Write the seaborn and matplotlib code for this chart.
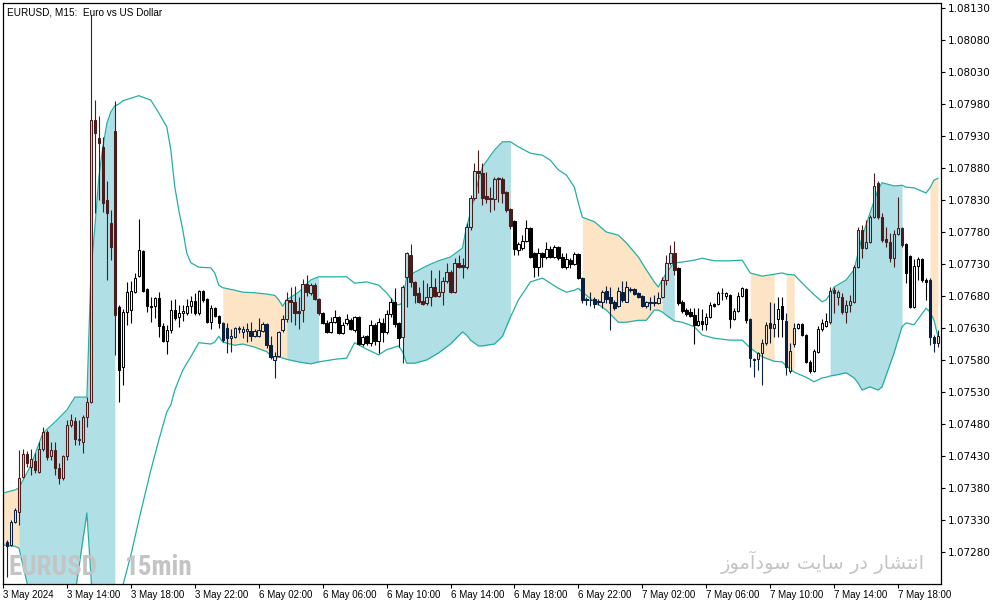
import numpy as np
import pandas as pd
import matplotlib
matplotlib.use('Agg')
import matplotlib.pyplot as plt
from matplotlib import font_manager
import seaborn as sns

# M15 candles, 3 May 10:15 -> 7 May ~20:30 (index = bar number)
opens = [
    1.07296, 1.07291, 1.07327, 1.07343, 1.07397, 1.07433, 1.07413, 1.07422, 1.07405, 1.07441,
    1.07468, 1.07430, 1.07439, 1.07411, 1.07396, 1.07430, 1.07478, 1.07485, 1.07457, 1.07452,
    1.07491, 1.07514, 1.07955, 1.07927, 1.07913, 1.07830, 1.07794, 1.07938, 1.07663, 1.07569,
    1.07655, 1.07658, 1.07686, 1.07711, 1.07750, 1.07691, 1.07664, 1.07664, 1.07677, 1.07633,
    1.07610, 1.07627, 1.07658, 1.07647, 1.07653, 1.07653, 1.07664, 1.07672, 1.07653, 1.07688,
    1.07675, 1.07639, 1.07661, 1.07649, 1.07638, 1.07630, 1.07614, 1.07616, 1.07630, 1.07624,
    1.07625, 1.07625, 1.07617, 1.07617, 1.07625, 1.07636, 1.07603, 1.07580, 1.07586, 1.07627,
    1.07644, 1.07674, 1.07671, 1.07656, 1.07658, 1.07699, 1.07685, 1.07697, 1.07675, 1.07653,
    1.07638, 1.07624, 1.07639, 1.07647, 1.07622, 1.07638, 1.07643, 1.07627, 1.07647, 1.07605,
    1.07617, 1.07606, 1.07635, 1.07610, 1.07638, 1.07624, 1.07652, 1.07671, 1.07638, 1.07616,
    1.07710, 1.07744, 1.07702, 1.07685, 1.07672, 1.07669, 1.07678, 1.07694, 1.07680, 1.07686,
    1.07703, 1.07717, 1.07686, 1.07732, 1.07728, 1.07725, 1.07788, 1.07833, 1.07875, 1.07872,
    1.07836, 1.07833, 1.07831, 1.07864, 1.07863, 1.07842, 1.07816, 1.07797, 1.07752, 1.07755,
    1.07766, 1.07786, 1.07747, 1.07725, 1.07747, 1.07741, 1.07753, 1.07741, 1.07756, 1.07741,
    1.07725, 1.07736, 1.07730, 1.07746, 1.07708, 1.07675, 1.07674, 1.07675, 1.07671, 1.07671,
    1.07688, 1.07678, 1.07671, 1.07664, 1.07686, 1.07671, 1.07691, 1.07691, 1.07685, 1.07680,
    1.07664, 1.07669, 1.07669, 1.07669, 1.07678, 1.07705, 1.07732, 1.07747, 1.07724, 1.07671,
    1.07658, 1.07655, 1.07650, 1.07635, 1.07641, 1.07636, 1.07647, 1.07668, 1.07668, 1.07685,
    1.07680, 1.07681, 1.07644, 1.07656, 1.07680, 1.07691, 1.07644, 1.07581, 1.07581, 1.07591,
    1.07607, 1.07638, 1.07630, 1.07644, 1.07664, 1.07641, 1.07563, 1.07605, 1.07630, 1.07636,
    1.07619, 1.07577, 1.07563, 1.07593, 1.07628, 1.07633, 1.07639, 1.07689, 1.07678, 1.07678,
    1.07655, 1.07666, 1.07671, 1.07725, 1.07783, 1.07755, 1.07764, 1.07803, 1.07856, 1.07803,
    1.07769, 1.07764, 1.07739, 1.07777, 1.07786, 1.07761, 1.07742, 1.07663, 1.07727, 1.07738,
    1.07705, 1.07705, 1.07616, 1.07606,
]
highs = [
    1.07299, 1.07330, 1.07349, 1.07439, 1.07441, 1.07438, 1.07441, 1.07435, 1.07452, 1.07475,
    1.07471, 1.07452, 1.07452, 1.07419, 1.07432, 1.07486, 1.07496, 1.07491, 1.07486, 1.07494,
    1.07522, 1.08119, 1.07986, 1.07961, 1.07928, 1.07860, 1.07814, 1.07985, 1.07666, 1.07660,
    1.07702, 1.07703, 1.07716, 1.07800, 1.07752, 1.07692, 1.07678, 1.07678, 1.07686, 1.07638,
    1.07635, 1.07674, 1.07675, 1.07666, 1.07666, 1.07675, 1.07680, 1.07685, 1.07689, 1.07689,
    1.07677, 1.07666, 1.07663, 1.07650, 1.07639, 1.07638, 1.07628, 1.07631, 1.07633, 1.07633,
    1.07638, 1.07639, 1.07628, 1.07646, 1.07639, 1.07638, 1.07617, 1.07593, 1.07626, 1.07650,
    1.07686, 1.07694, 1.07696, 1.07678, 1.07706, 1.07713, 1.07700, 1.07700, 1.07677, 1.07655,
    1.07643, 1.07647, 1.07658, 1.07649, 1.07639, 1.07652, 1.07646, 1.07649, 1.07649, 1.07619,
    1.07619, 1.07643, 1.07638, 1.07646, 1.07646, 1.07658, 1.07677, 1.07693, 1.07640, 1.07697,
    1.07749, 1.07761, 1.07704, 1.07694, 1.07705, 1.07700, 1.07721, 1.07708, 1.07721, 1.07710,
    1.07732, 1.07721, 1.07739, 1.07744, 1.07739, 1.07794, 1.07838, 1.07888, 1.07908, 1.07888,
    1.07874, 1.07850, 1.07866, 1.07866, 1.07866, 1.07844, 1.07818, 1.07799, 1.07764, 1.07775,
    1.07799, 1.07788, 1.07749, 1.07755, 1.07749, 1.07764, 1.07758, 1.07760, 1.07758, 1.07747,
    1.07747, 1.07739, 1.07749, 1.07747, 1.07710, 1.07678, 1.07686, 1.07678, 1.07675, 1.07689,
    1.07696, 1.07694, 1.07674, 1.07694, 1.07703, 1.07703, 1.07694, 1.07692, 1.07686, 1.07681,
    1.07672, 1.07678, 1.07681, 1.07686, 1.07710, 1.07744, 1.07760, 1.07766, 1.07726, 1.07673,
    1.07661, 1.07661, 1.07661, 1.07661, 1.07660, 1.07653, 1.07671, 1.07669, 1.07688, 1.07692,
    1.07686, 1.07683, 1.07661, 1.07686, 1.07694, 1.07693, 1.07646, 1.07583, 1.07593, 1.07613,
    1.07639, 1.07671, 1.07669, 1.07678, 1.07678, 1.07653, 1.07607, 1.07638, 1.07638, 1.07638,
    1.07621, 1.07580, 1.07597, 1.07633, 1.07644, 1.07653, 1.07694, 1.07694, 1.07689, 1.07685,
    1.07674, 1.07681, 1.07728, 1.07788, 1.07791, 1.07799, 1.07807, 1.07872, 1.07860, 1.07810,
    1.07788, 1.07778, 1.07783, 1.07835, 1.07788, 1.07763, 1.07744, 1.07738, 1.07741, 1.07739,
    1.07708, 1.07708, 1.07619, 1.07627,
]
lows = [
    1.07241, 1.07289, 1.07325, 1.07322, 1.07396, 1.07413, 1.07400, 1.07403, 1.07403, 1.07438,
    1.07424, 1.07424, 1.07400, 1.07386, 1.07393, 1.07424, 1.07475, 1.07447, 1.07447, 1.07435,
    1.07475, 1.07513, 1.07810, 1.07830, 1.07811, 1.07705, 1.07736, 1.07588, 1.07514, 1.07541,
    1.07635, 1.07638, 1.07685, 1.07710, 1.07686, 1.07655, 1.07639, 1.07646, 1.07616, 1.07608,
    1.07589, 1.07622, 1.07643, 1.07632, 1.07641, 1.07650, 1.07653, 1.07650, 1.07650, 1.07671,
    1.07638, 1.07628, 1.07647, 1.07630, 1.07608, 1.07591, 1.07593, 1.07614, 1.07622, 1.07614,
    1.07608, 1.07610, 1.07616, 1.07616, 1.07624, 1.07599, 1.07581, 1.07552, 1.07585, 1.07624,
    1.07639, 1.07639, 1.07635, 1.07628, 1.07639, 1.07680, 1.07681, 1.07674, 1.07650, 1.07636,
    1.07622, 1.07622, 1.07638, 1.07620, 1.07620, 1.07635, 1.07627, 1.07624, 1.07603, 1.07602,
    1.07604, 1.07602, 1.07603, 1.07591, 1.07608, 1.07620, 1.07647, 1.07632, 1.07600, 1.07575,
    1.07663, 1.07694, 1.07669, 1.07669, 1.07666, 1.07666, 1.07664, 1.07678, 1.07678, 1.07666,
    1.07700, 1.07685, 1.07685, 1.07724, 1.07708, 1.07722, 1.07783, 1.07830, 1.07841, 1.07822,
    1.07825, 1.07811, 1.07814, 1.07827, 1.07825, 1.07811, 1.07785, 1.07744, 1.07744, 1.07752,
    1.07764, 1.07739, 1.07710, 1.07711, 1.07725, 1.07738, 1.07739, 1.07739, 1.07736, 1.07724,
    1.07722, 1.07724, 1.07728, 1.07706, 1.07669, 1.07666, 1.07664, 1.07661, 1.07666, 1.07661,
    1.07669, 1.07627, 1.07658, 1.07663, 1.07671, 1.07670, 1.07686, 1.07682, 1.07677, 1.07663,
    1.07661, 1.07658, 1.07664, 1.07668, 1.07677, 1.07697, 1.07728, 1.07713, 1.07666, 1.07653,
    1.07649, 1.07647, 1.07605, 1.07633, 1.07627, 1.07627, 1.07646, 1.07663, 1.07666, 1.07674,
    1.07675, 1.07630, 1.07643, 1.07655, 1.07678, 1.07638, 1.07569, 1.07553, 1.07564, 1.07541,
    1.07603, 1.07606, 1.07616, 1.07616, 1.07616, 1.07556, 1.07560, 1.07600, 1.07628, 1.07617,
    1.07575, 1.07560, 1.07561, 1.07591, 1.07625, 1.07632, 1.07636, 1.07653, 1.07666, 1.07652,
    1.07638, 1.07655, 1.07669, 1.07724, 1.07739, 1.07753, 1.07763, 1.07802, 1.07801, 1.07764,
    1.07756, 1.07733, 1.07725, 1.07775, 1.07756, 1.07700, 1.07661, 1.07661, 1.07705, 1.07702,
    1.07674, 1.07603, 1.07593, 1.07600,
]
closes = [
    1.07289, 1.07327, 1.07346, 1.07396, 1.07433, 1.07419, 1.07425, 1.07408, 1.07441, 1.07468,
    1.07428, 1.07439, 1.07411, 1.07396, 1.07430, 1.07478, 1.07486, 1.07457, 1.07455, 1.07491,
    1.07514, 1.07955, 1.07935, 1.07919, 1.07825, 1.07810, 1.07757, 1.07650, 1.07564, 1.07655,
    1.07686, 1.07688, 1.07708, 1.07752, 1.07688, 1.07664, 1.07663, 1.07677, 1.07633, 1.07610,
    1.07627, 1.07658, 1.07646, 1.07653, 1.07656, 1.07664, 1.07672, 1.07653, 1.07688, 1.07674,
    1.07639, 1.07661, 1.07649, 1.07638, 1.07611, 1.07614, 1.07617, 1.07630, 1.07629, 1.07628,
    1.07628, 1.07617, 1.07625, 1.07627, 1.07636, 1.07603, 1.07585, 1.07586, 1.07624, 1.07644,
    1.07674, 1.07671, 1.07653, 1.07653, 1.07699, 1.07686, 1.07697, 1.07675, 1.07653, 1.07638,
    1.07624, 1.07639, 1.07647, 1.07622, 1.07635, 1.07644, 1.07628, 1.07647, 1.07605, 1.07616,
    1.07606, 1.07635, 1.07610, 1.07639, 1.07624, 1.07652, 1.07671, 1.07636, 1.07614, 1.07694,
    1.07747, 1.07702, 1.07682, 1.07671, 1.07668, 1.07678, 1.07694, 1.07680, 1.07686, 1.07703,
    1.07717, 1.07686, 1.07732, 1.07725, 1.07725, 1.07788, 1.07833, 1.07875, 1.07872, 1.07833,
    1.07831, 1.07831, 1.07863, 1.07863, 1.07841, 1.07814, 1.07789, 1.07753, 1.07761, 1.07766,
    1.07786, 1.07741, 1.07725, 1.07747, 1.07741, 1.07753, 1.07741, 1.07756, 1.07739, 1.07725,
    1.07738, 1.07730, 1.07746, 1.07708, 1.07674, 1.07674, 1.07673, 1.07668, 1.07672, 1.07686,
    1.07675, 1.07669, 1.07661, 1.07688, 1.07674, 1.07694, 1.07690, 1.07683, 1.07678, 1.07664,
    1.07671, 1.07670, 1.07670, 1.07677, 1.07705, 1.07732, 1.07747, 1.07721, 1.07669, 1.07656,
    1.07652, 1.07649, 1.07635, 1.07641, 1.07636, 1.07647, 1.07666, 1.07664, 1.07685, 1.07684,
    1.07685, 1.07644, 1.07656, 1.07680, 1.07692, 1.07643, 1.07583, 1.07580, 1.07591, 1.07607,
    1.07635, 1.07630, 1.07636, 1.07660, 1.07644, 1.07569, 1.07594, 1.07630, 1.07636, 1.07619,
    1.07577, 1.07563, 1.07594, 1.07628, 1.07638, 1.07641, 1.07688, 1.07685, 1.07686, 1.07655,
    1.07666, 1.07672, 1.07725, 1.07783, 1.07755, 1.07764, 1.07803, 1.07852, 1.07803, 1.07767,
    1.07764, 1.07739, 1.07777, 1.07786, 1.07760, 1.07716, 1.07663, 1.07727, 1.07738, 1.07705,
    1.07702, 1.07616, 1.07606, 1.07617,
]

# envelope bands, read at these bar numbers
band_idx = [
    -1, 2, 3, 6, 9, 12, 15, 17, 19, 20,
    21, 22, 23, 24, 25, 26, 27, 28, 29, 31,
    33, 36, 38, 40, 41, 42, 43, 44, 45, 46,
    48, 51, 52, 53, 54, 57, 59, 62, 65, 67,
    68, 69, 70, 73, 76, 78, 82, 85, 87, 90,
    93, 95, 97, 98, 99, 100, 102, 105, 108, 111,
    114, 115, 116, 118, 119, 122, 124, 126, 128, 131,
    134, 136, 138, 140, 142, 143, 144, 147, 150, 153,
    155, 158, 160, 162, 163, 164, 165, 167, 169, 172,
    174, 177, 181, 184, 186, 189, 192, 194, 195, 197,
    200, 202, 204, 205, 206, 207, 210, 212, 213, 214,
    216, 218, 219, 222, 224, 225, 227, 230, 231, 232,
    233,
]
band_upper = [
    1.07372, 1.07377, 1.07380, 1.07416, 1.07466, 1.07483, 1.07502, 1.07522, 1.07522, 1.07522,
    1.07716, 1.07788, 1.07866, 1.07913, 1.07950, 1.07968, 1.07977, 1.07980, 1.07985, 1.07989,
    1.07993, 1.07986, 1.07966, 1.07944, 1.07908, 1.07850, 1.07814, 1.07783, 1.07747, 1.07732,
    1.07725, 1.07724, 1.07716, 1.07697, 1.07693, 1.07689, 1.07686, 1.07685, 1.07683, 1.07681,
    1.07674, 1.07664, 1.07674, 1.07686, 1.07705, 1.07710, 1.07710, 1.07710, 1.07700, 1.07702,
    1.07697, 1.07685, 1.07669, 1.07666, 1.07669, 1.07710, 1.07717, 1.07727, 1.07735, 1.07741,
    1.07755, 1.07788, 1.07810, 1.07861, 1.07882, 1.07908, 1.07921, 1.07921, 1.07913, 1.07903,
    1.07900, 1.07892, 1.07877, 1.07869, 1.07850, 1.07825, 1.07803, 1.07796, 1.07780, 1.07775,
    1.07763, 1.07741, 1.07721, 1.07702, 1.07694, 1.07705, 1.07716, 1.07732, 1.07733, 1.07736,
    1.07739, 1.07735, 1.07735, 1.07736, 1.07716, 1.07711, 1.07714, 1.07716, 1.07714, 1.07713,
    1.07694, 1.07682, 1.07671, 1.07674, 1.07683, 1.07694, 1.07705, 1.07721, 1.07747, 1.07772,
    1.07810, 1.07846, 1.07857, 1.07852, 1.07853, 1.07850, 1.07849, 1.07841, 1.07849, 1.07861,
    1.07864,
]
band_lower = [
    1.07291, 1.07289, 1.07286, 1.07205, 1.07182, 1.07174, 1.07189, 1.07213, 1.07299, 1.07341,
    1.07244, 1.07143, 1.07127, 1.07119, 1.07119, 1.07127, 1.07143, 1.07174, 1.07228, 1.07275,
    1.07330, 1.07408, 1.07455, 1.07499, 1.07510, 1.07533, 1.07549, 1.07564, 1.07575, 1.07585,
    1.07607, 1.07605, 1.07608, 1.07617, 1.07608, 1.07603, 1.07605, 1.07600, 1.07593, 1.07581,
    1.07585, 1.07583, 1.07581, 1.07577, 1.07574, 1.07577, 1.07581, 1.07583, 1.07607, 1.07597,
    1.07588, 1.07596, 1.07600, 1.07602, 1.07593, 1.07575, 1.07575, 1.07580, 1.07591, 1.07605,
    1.07624, 1.07619, 1.07611, 1.07602, 1.07602, 1.07605, 1.07617, 1.07647, 1.07674, 1.07702,
    1.07708, 1.07700, 1.07692, 1.07686, 1.07689, 1.07692, 1.07686, 1.07671, 1.07658, 1.07639,
    1.07639, 1.07642, 1.07642, 1.07658, 1.07658, 1.07655, 1.07650, 1.07641, 1.07639, 1.07632,
    1.07619, 1.07614, 1.07611, 1.07611, 1.07599, 1.07585, 1.07578, 1.07577, 1.07571, 1.07561,
    1.07553, 1.07546, 1.07552, 1.07553, 1.07555, 1.07556, 1.07560, 1.07552, 1.07544, 1.07533,
    1.07538, 1.07533, 1.07538, 1.07591, 1.07632, 1.07638, 1.07635, 1.07661, 1.07655, 1.07642,
    1.07616,
]

# shaded zones between the bands (bar numbers)
zone_start = [-1, 3, 54, 70, 99, 144, 164, 186, 195, 206, 231]
zone_end = [3, 27, 70, 78, 126, 164, 167, 192, 197, 224, 233]
zone_kind = ['sell', 'buy', 'sell', 'buy', 'buy', 'sell', 'buy', 'sell', 'sell', 'buy', 'sell']

tick_idx = [-1, 15, 31, 47, 63, 79, 95, 111, 127, 143, 159, 175, 191, 207, 223]
tick_labels = ['3 May 2024', '3 May 14:00', '3 May 18:00', '3 May 22:00', '6 May 02:00',
               '6 May 06:00', '6 May 10:00', '6 May 14:00', '6 May 18:00', '6 May 22:00',
               '7 May 02:00', '7 May 06:00', '7 May 10:00', '7 May 14:00', '7 May 18:00']
price_ticks = [1.07280, 1.07330, 1.07380, 1.07430, 1.07480, 1.07530, 1.07580, 1.07630, 1.07680,
               1.07730, 1.07780, 1.07830, 1.07880, 1.07930, 1.07980, 1.08030, 1.08080, 1.08130]

fill_col = {'buy': '#b0dfe5', 'sell': '#fde4c5'}
ink_col = {'none': '#000000', 'buy': '#4a1c1c', 'sell': '#0b1f3f'}

df = pd.DataFrame({'open': opens, 'high': highs, 'low': lows, 'close': closes})
df['bar'] = np.arange(len(df))
df['zone'] = 'none'
for s, e, k in zip(zone_start, zone_end, zone_kind):
    df.loc[(df['bar'] >= s) & (df['bar'] <= e), 'zone'] = k

sns.set_style('white')
plt.rcParams['font.family'] = ['DejaVu Sans']

# narrowest bold face available for the watermark
installed = {f.name for f in font_manager.fontManager.ttflist}
wm_family, wm_size = 'Liberation Sans', 15.5
for fam, size in [('Liberation Sans Narrow', 19), ('Roboto Condensed', 19.5), ('Roboto', 17)]:
    if fam in installed:
        wm_family, wm_size = fam, size
        break

fig = plt.figure(figsize=(9.94, 6.05), dpi=100)
ax = fig.add_axes([3 / 994, 21 / 605, 938 / 994, 581 / 605])

bx = np.array(band_idx, dtype=float)
bu = np.array(band_upper)
bl = np.array(band_lower)
for s, e, k in zip(zone_start, zone_end, zone_kind):
    ax.fill_between(bx, bu, bl, where=(bx >= s) & (bx <= e), color=fill_col[k],
                    lw=0, zorder=1)

sns.lineplot(x=band_idx, y=band_upper, ax=ax, color='#22b0a2', linewidth=0.9, zorder=2)
sns.lineplot(x=band_idx, y=band_lower, ax=ax, color='#22b0a2', linewidth=0.9, zorder=2)

# candles
for _, r in df.iterrows():
    ink = ink_col[r['zone']]
    bull = r['close'] >= r['open']
    face = ('white' if r['zone'] == 'none' else fill_col[r['zone']]) if bull else ink
    ax.vlines(r['bar'], r['low'], r['high'], color=ink, lw=0.8, zorder=3)
    lo, hi = min(r['open'], r['close']), max(r['open'], r['close'])
    ax.bar(r['bar'], max(hi - lo, 0.000004), bottom=lo, width=0.62,
           facecolor=face, edgecolor=ink, linewidth=0.75, zorder=4)

ax.set_xlim(-0.75, 233.75)
ax.set_ylim(1.07230, 1.081378)

for sp in ax.spines.values():
    sp.set_color('black')
    sp.set_linewidth(0.9)

ax.yaxis.tick_right()
ax.set_yticks(price_ticks)
ax.set_yticklabels([f'{p:.5f}' for p in price_ticks])
ax.tick_params(axis='y', direction='out', length=3, width=0.8, pad=2, labelsize=7.5,
               colors='black', right=True, left=False)
ax.set_xticks(tick_idx)
ax.set_xticklabels(tick_labels, ha='left', fontsize=7, family='Liberation Sans')
ax.tick_params(axis='x', direction='out', length=3, width=0.8, pad=1.5, colors='black',
               bottom=True)
ax.set_xlabel('')
ax.set_ylabel('')
ax.grid(False)

ax.text(0.004, 0.993, 'EURUSD, M15:  Euro vs US Dollar', transform=ax.transAxes,
        ha='left', va='top', fontsize=7.2, family='Liberation Sans', color='black')

# watermarks
fig.text(8 / 994, 30 / 605, 'EURUSD', fontsize=wm_size, fontweight='bold',
         family=wm_family, color='#c4c4c4', va='baseline', ha='left', zorder=5)
fig.text(125 / 994, 30 / 605, '15min', fontsize=wm_size, fontweight='bold',
         family=wm_family, color='#c4c4c4', va='baseline', ha='left', zorder=5)
# Persian note, written with Arabic presentation forms in visual order
persian = ('\uFEAF\uFEEE\uFEE3\uFE81\uFEA9\uFEEE\uFEB3 \uFE96\uFEF3\uFE8E\uFEB3 '
           '\uFEAD\uFEA9 \uFEAD\uFE8E\uFEB8\uFE98\uFEE7\uFE8D')
fig.text(925 / 994, 36 / 605, persian, fontsize=14, family='DejaVu Sans',
         color='#c4c4c4', va='baseline', ha='right', zorder=5)

fig.savefig('out.png', dpi=100)
